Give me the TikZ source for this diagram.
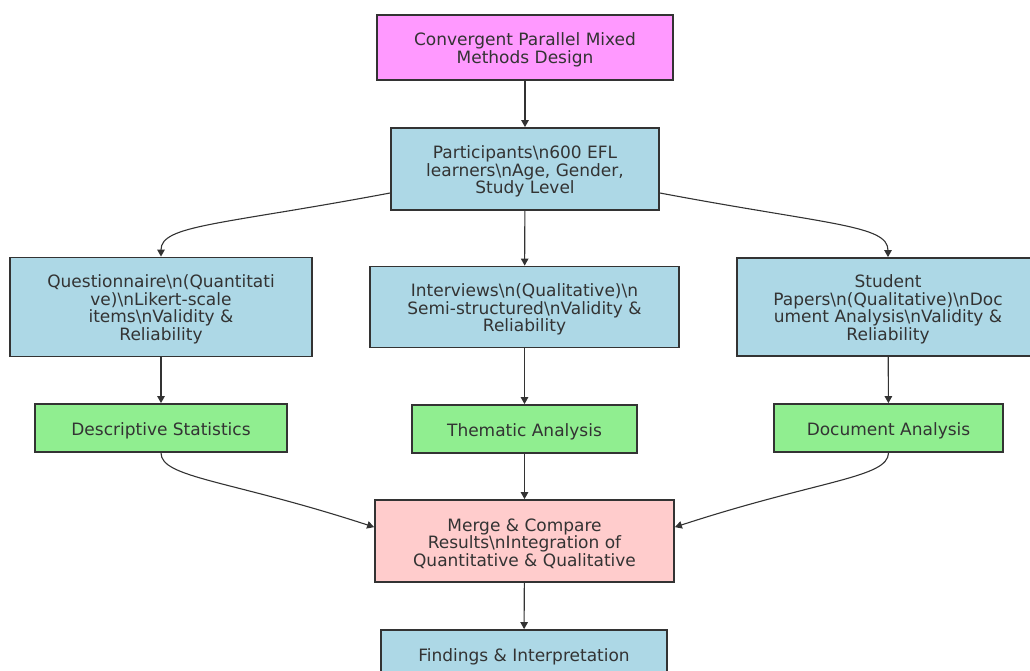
\documentclass[tikz,border=0pt]{standalone}
\usepackage{fontspec}
\setmainfont{DejaVu Sans}
\usetikzlibrary{arrows.meta}
\definecolor{txt}{HTML}{333333}
\definecolor{bord}{HTML}{333333}
\definecolor{cmag}{HTML}{FF99FF}
\definecolor{cblue}{HTML}{ADD8E6}
\definecolor{cgreen}{HTML}{90EE90}
\definecolor{cpink}{HTML}{FFCCCC}
\newcommand{\st}{\rule{0pt}{18pt}}
\tikzset{
  box/.style={draw=bord, line width=1.8pt, rectangle, inner sep=0pt, align=center,
    text=txt, font=\fontsize{17}{17.5}\selectfont},
  conn/.style={draw=bord, line width=1.1pt, -{Triangle[length=7pt,width=7.5pt]}}
}
\begin{document}
\begin{tikzpicture}[x=1pt,y=-1pt]
\useasboundingbox (0,0) rectangle (1030,670);
\node[box, fill=cmag, minimum width=296pt, minimum height=65pt] (top) at (525,47.5)
  {\st Convergent Parallel Mixed\\Methods Design};
\node[box, fill=cblue, minimum width=268pt, minimum height=82pt] (part) at (525,169)
  {\st Participants\textbackslash n600 EFL\\learners\textbackslash nAge, Gender,\\Study Level};
\node[box, fill=cblue, minimum width=302pt, minimum height=99pt] (quest) at (161,307)
  {\st Questionnaire\textbackslash n(Quantitati\\ve)\textbackslash nLikert-scale\\items\textbackslash nValidity \&\\Reliability};
\node[box, fill=cblue, minimum width=309pt, minimum height=81pt] (inter) at (524.5,307)
  {\st Interviews\textbackslash n(Qualitative)\textbackslash n\\Semi-structured\textbackslash nValidity \&\\Reliability};
\node[box, fill=cblue, minimum width=302pt, minimum height=98pt] (stud) at (888,307)
  {\st Student\\Papers\textbackslash n(Qualitative)\textbackslash nDoc\\ument Analysis\textbackslash nValidity \&\\Reliability};
\node[box, fill=cgreen, minimum width=252pt, minimum height=48pt] (desc) at (161,428)
  {\st Descriptive Statistics};
\node[box, fill=cgreen, minimum width=225pt, minimum height=48pt] (them) at (524.5,429)
  {\st Thematic Analysis};
\node[box, fill=cgreen, minimum width=229pt, minimum height=48pt] (doc) at (888.5,428)
  {\st Document Analysis};
\node[box, fill=cpink, minimum width=299pt, minimum height=82pt] (merge) at (524.5,541)
  {\st Merge \& Compare\\Results\textbackslash nIntegration of\\Quantitative \& Qualitative};
\node[box, fill=cblue, minimum width=286pt, minimum height=48pt] (find) at (524,654)
  {\st Findings \& Interpretation};

\draw[conn] (top) -- (part);
\draw[conn] ([yshift=-24pt]part.west) .. controls (220,225) and (161,225) .. (quest.north);
\draw[conn] (part) -- (inter);
\draw[conn] ([yshift=-24pt]part.east) .. controls (830,225) and (888,225) .. (stud.north);
\draw[conn] (quest) -- (desc);
\draw[conn] (inter) -- (them);
\draw[conn] (stud) -- (doc);
\draw[conn] (desc.south) .. controls (161,478) and (230,480) .. ([yshift=-28pt]merge.north west);
\draw[conn] (them) -- (merge);
\draw[conn] (doc.south) .. controls (888,478) and (819,480) .. ([yshift=-28pt]merge.north east);
\draw[conn] (merge) -- (find);
\end{tikzpicture}
\end{document}
